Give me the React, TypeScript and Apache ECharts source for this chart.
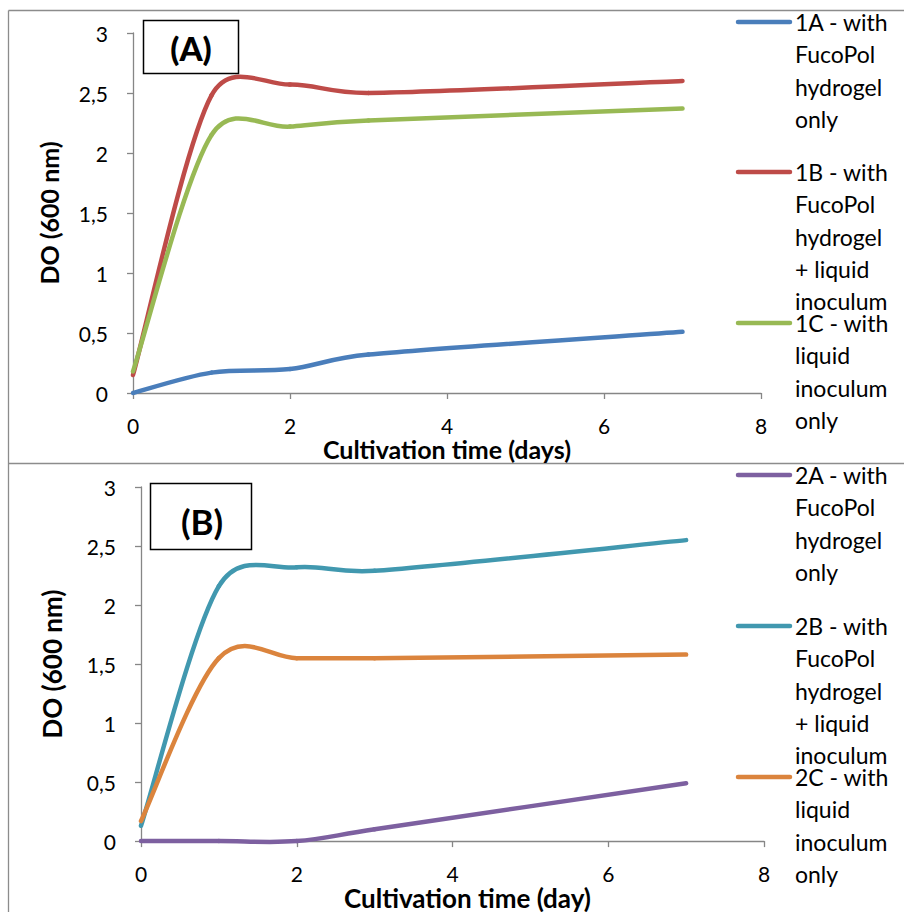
import React, { useEffect, useRef } from "react";
import * as echarts from "echarts";

const days = [0, 1, 2, 3, 7];
const namesA = [
  "1A - with\nFucoPol\nhydrogel\nonly",
  "1B - with\nFucoPol\nhydrogel\n+ liquid\ninoculum",
  "1C - with\nliquid\ninoculum\nonly",
];
const namesB = [
  "2A - with\nFucoPol\nhydrogel\nonly",
  "2B - with\nFucoPol\nhydrogel\n+ liquid\ninoculum",
  "2C - with\nliquid\ninoculum\nonly",
];
const values1A = [0, 0.17, 0.2, 0.32, 0.51];
const values1B = [0.15, 2.48, 2.57, 2.5, 2.6];
const values1C = [0.18, 2.15, 2.22, 2.27, 2.37];
const values2A = [0, 0, 0, 0.1, 0.49];
const values2B = [0.13, 2.16, 2.32, 2.29, 2.55];
const values2C = [0.17, 1.55, 1.55, 1.55, 1.58];
const colorsA = ["#4A7EBB", "#BE4B48", "#98B954"];
const colorsB = ["#7D60A0", "#4198AF", "#DB843D"];
const xTickLabels = ["0", "2", "4", "6", "8"];
const yTickLabels = ["0", "0,5", "1", "1,5", "2", "2,5", "3"];

const FONT = "Lato, 'Open Sans', sans-serif";
const AXIS_COLOR = "#868686";

function xAxis(gridIndex: number, name: string, pad: number, gap: number, size: number) {
  return {
    type: "value",
    gridIndex,
    min: 0,
    max: 8,
    interval: 2,
    name,
    nameLocation: "middle",
    nameGap: gap,
    nameTextStyle: {
      fontFamily: FONT,
      fontWeight: "bold",
      fontSize: size,
      color: "#000",
      padding: [0, 0, 0, pad],
    },
    axisLine: { show: true, lineStyle: { color: AXIS_COLOR, width: 1.3 } },
    axisTick: { show: true, length: 6, lineStyle: { color: AXIS_COLOR, width: 1.3 } },
    splitLine: { show: false },
    axisLabel: {
      margin: 22,
      fontFamily: FONT,
      fontSize: 21,
      color: "#000",
      formatter: (v: number) => xTickLabels[Math.round(v / 2)],
    },
  };
}

function yAxis(gridIndex: number, gap: number, size: number) {
  return {
    type: "value",
    gridIndex,
    min: 0,
    max: 3,
    interval: 0.5,
    name: "DO (600 nm)",
    nameLocation: "middle",
    nameGap: gap,
    nameRotate: 90,
    nameTextStyle: { fontFamily: FONT, fontWeight: "bold", fontSize: size, color: "#000" },
    axisLine: { show: true, lineStyle: { color: AXIS_COLOR, width: 1.3 } },
    axisTick: { show: true, length: 6, lineStyle: { color: AXIS_COLOR, width: 1.3 } },
    splitLine: { show: false },
    axisLabel: {
      margin: 25,
      fontFamily: FONT,
      fontSize: 21,
      color: "#000",
      formatter: (v: number) => yTickLabels[Math.round(v / 0.5)],
    },
  };
}

// Excel-style smoothed line: Bezier segments with Catmull-Rom handles,
// each handle limited to half the segment length, drawn by a custom series
function curveSeries(name: string, vals: number[], color: string, idx: number) {
  const pts = days.map((d, i) => [d, vals[i]]);
  return {
    type: "custom",
    name,
    xAxisIndex: idx,
    yAxisIndex: idx,
    data: pts,
    encode: { x: 0, y: 1 },
    clip: false,
    renderItem: (params: any, api: any) => {
      const i = params.dataIndex;
      if (i >= pts.length - 1) return { type: "group", children: [] };
      const P = (j: number) => api.coord(pts[Math.max(0, Math.min(pts.length - 1, j))]);
      const p0 = P(i - 1);
      const p1 = P(i);
      const p2 = P(i + 1);
      const p3 = P(i + 2);
      const d12 = Math.hypot(p2[0] - p1[0], p2[1] - p1[1]);
      const limit = (v: number[]) => {
        const len = Math.hypot(v[0], v[1]);
        const maxLen = d12 / 2;
        if (len > maxLen && len > 0) {
          const s = maxLen / len;
          return [v[0] * s, v[1] * s];
        }
        return v;
      };
      const v1 = limit([(p2[0] - p0[0]) / 6, (p2[1] - p0[1]) / 6]);
      const v2 = limit([(p3[0] - p1[0]) / 6, (p3[1] - p1[1]) / 6]);
      return {
        type: "bezierCurve",
        shape: {
          x1: p1[0],
          y1: p1[1],
          x2: p2[0],
          y2: p2[1],
          cpx1: p1[0] + v1[0],
          cpy1: p1[1] + v1[1],
          cpx2: p2[0] - v2[0],
          cpy2: p2[1] - v2[1],
        },
        style: { stroke: color, lineWidth: 4.5, fill: null, lineCap: "round" },
      };
    },
  };
}

function legendItems(names: string[], colors: string[], ys: number[]) {
  const out: any[] = [];
  names.forEach((n, i) => {
    out.push({
      type: "line",
      shape: { x1: 738, y1: ys[i], x2: 790, y2: ys[i] },
      style: { stroke: colors[i], lineWidth: 4.5, lineCap: "round" },
      z: 10,
    });
    out.push({
      type: "text",
      x: 795,
      y: ys[i] - 16,
      style: {
        text: n,
        font: `23px ${FONT}`,
        fill: "#000",
        lineHeight: 32.3,
        verticalAlign: "top",
        align: "left",
      },
      z: 10,
    });
  });
  return out;
}

export default function App() {
  const ref = useRef<HTMLDivElement>(null);
  useEffect(() => {
    if (!ref.current) return;
    const chart = echarts.init(ref.current, null, { renderer: "svg" });
    const option: any = {
      animation: false,
      backgroundColor: "#fff",
      grid: [
        { left: 133, top: 33, width: 628, height: 360 },
        { left: 141, top: 487, width: 623, height: 361 },
      ],
      xAxis: [
        xAxis(0, "Cultivation time (days)", 0, 37, 25),
        xAxis(1, "Cultivation time (day)", 30, 27, 26),
      ],
      yAxis: [yAxis(0, 72, 25), yAxis(1, 76, 26)],
      series: [
        curveSeries(namesA[0], values1A, colorsA[0], 0),
        curveSeries(namesA[1], values1B, colorsA[1], 0),
        curveSeries(namesA[2], values1C, colorsA[2], 0),
        curveSeries(namesB[0], values2A, colorsB[0], 1),
        curveSeries(namesB[1], values2B, colorsB[1], 1),
        curveSeries(namesB[2], values2C, colorsB[2], 1),
      ],
      graphic: [
        { type: "line", shape: { x1: 8.5, y1: 10.5, x2: 904, y2: 10.5 }, style: { stroke: "#8c8c8c", lineWidth: 1.3 } },
        { type: "line", shape: { x1: 8.5, y1: 10.5, x2: 8.5, y2: 912 }, style: { stroke: "#8c8c8c", lineWidth: 1.3 } },
        { type: "line", shape: { x1: 8.5, y1: 463.5, x2: 904, y2: 463.5 }, style: { stroke: "#8c8c8c", lineWidth: 1.3 } },
        {
          type: "rect",
          shape: { x: 143.5, y: 20.5, width: 95, height: 53 },
          style: { fill: "#fff", stroke: "#000", lineWidth: 1.5 },
          z: 20,
        },
        {
          type: "text",
          x: 191,
          y: 48,
          style: { text: "(A)", font: `900 33px ${FONT}`, fill: "#000", align: "center", verticalAlign: "middle" },
          z: 21,
        },
        {
          type: "rect",
          shape: { x: 150.5, y: 483.5, width: 101, height: 66 },
          style: { fill: "#fff", stroke: "#000", lineWidth: 1.5 },
          z: 20,
        },
        {
          type: "text",
          x: 202,
          y: 521,
          style: { text: "(B)", font: `bold 35px ${FONT}`, fill: "#000", align: "center", verticalAlign: "middle" },
          z: 21,
        },
        ...legendItems(namesA, colorsA, [22, 172, 323]),
        ...legendItems(namesB, colorsB, [475, 626, 777]),
      ],
    };
    chart.setOption(option);
    return () => chart.dispose();
  }, []);
  return (
    <div
      ref={ref}
      style={{ position: "absolute", left: 0, top: 0, width: 904, height: 912 }}
    />
  );
}
